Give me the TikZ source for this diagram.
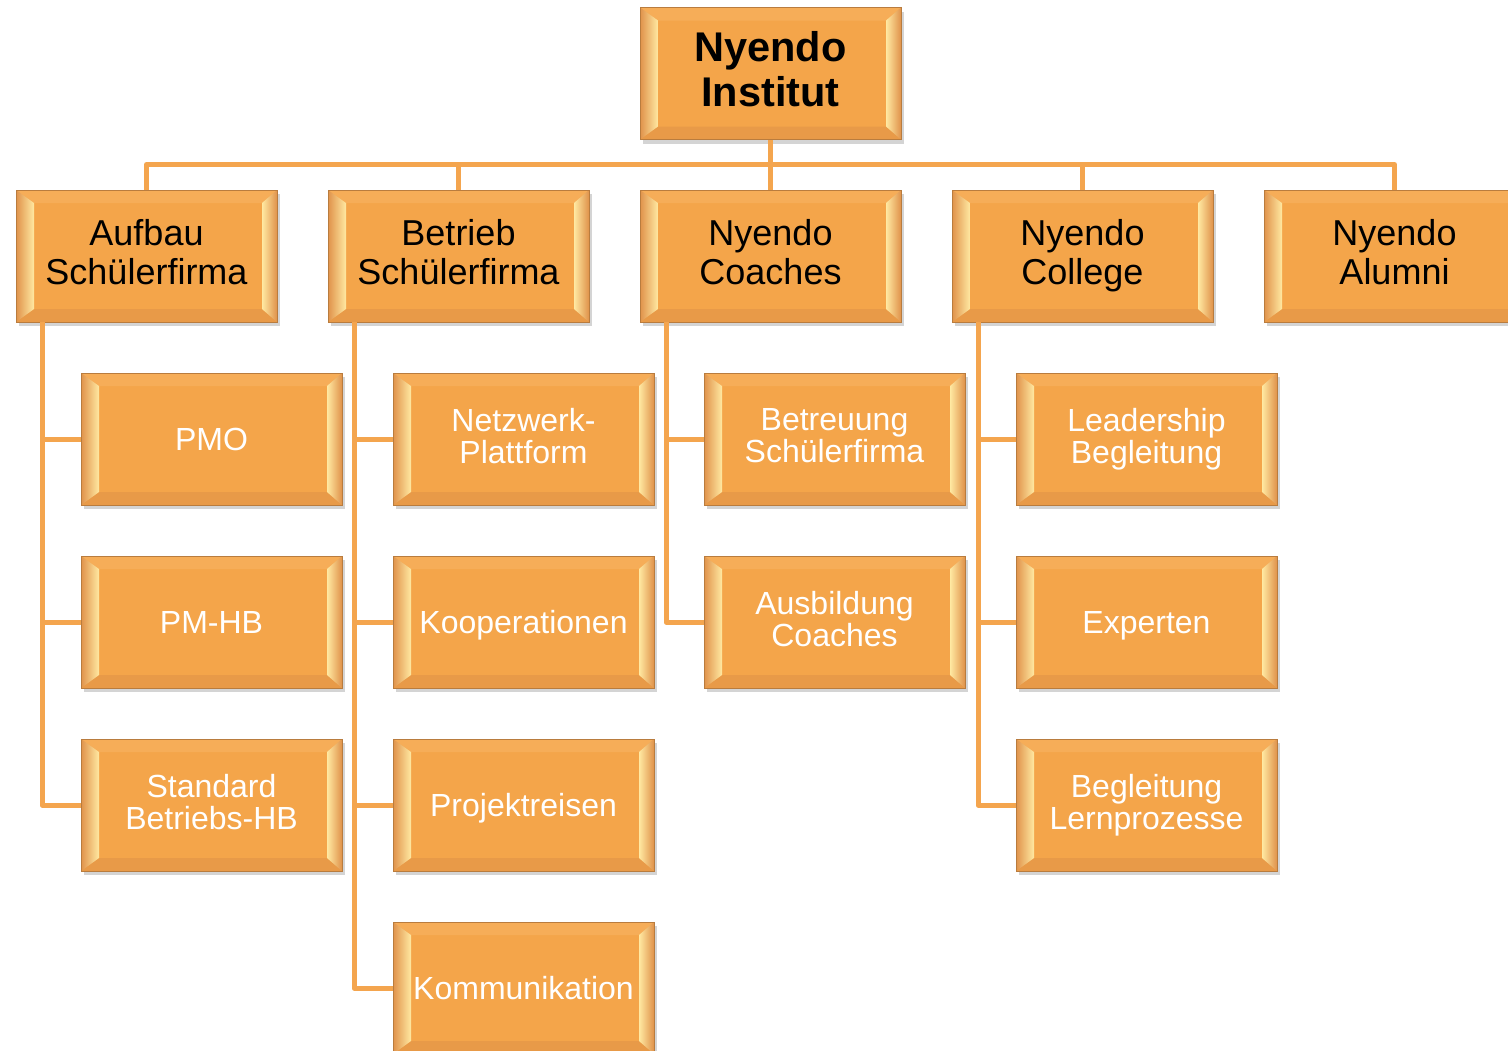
\documentclass[tikz,border=0pt]{standalone}
\usepackage{fontspec}
\setmainfont{Liberation Sans}
\usetikzlibrary{calc,shadows}
\definecolor{boxor}{HTML}{F4A54A}
\definecolor{boxedge}{HTML}{B97C3E}
\definecolor{bevdark}{HTML}{E0924A}
\definecolor{bevmid}{HTML}{F2AE5E}
\definecolor{bevyel}{HTML}{FFE9A2}
\definecolor{bevtop}{HTML}{F6AD58}
\definecolor{bevbot}{HTML}{E89A48}
\definecolor{lineor}{HTML}{F4A54E}
\tikzset{
  bevel/.style={rectangle, minimum width=261pt, minimum height=132pt, inner sep=0pt,
    fill=boxor, draw=boxedge, line width=0.8pt, align=center,
    execute at begin node={\rule{0pt}{0.93em}},
    execute at end node={\rule[-0.21em]{0pt}{0.21em}},
    drop shadow={shadow xshift=3pt, shadow yshift=-4pt, opacity=0.3, fill=black!55},
    path picture={
      \coordinate (oSW) at (path picture bounding box.south west);
      \coordinate (oNE) at (path picture bounding box.north east);
      \coordinate (oNW) at (oSW |- oNE);
      \coordinate (oSE) at (oNE |- oSW);
      \coordinate (iSW) at ($(oSW)+(18pt,13pt)$);
      \coordinate (iNE) at ($(oNE)+(-15pt,-13pt)$);
      \coordinate (iNW) at (iSW |- iNE);
      \coordinate (iSE) at (iNE |- iSW);
      \fill[bevtop] (oNW) -- (oNE) -- (iNE) -- (iNW) -- cycle;
      \fill[bevbot] (oSW) -- (oSE) -- (iSE) -- (iSW) -- cycle;
      \shade[left color=bevdark, middle color=bevmid, right color=bevyel]
        (oSW) -- (iSW) -- (iNW) -- (oNW) -- cycle;
      \shade[left color=bevyel, middle color=bevmid, right color=bevdark]
        (iSE) -- (oSE) -- (oNE) -- (iNE) -- cycle;
    }},
  lower/.style={execute at begin node={\rule{0pt}{\dimexpr 0.93em+#1\relax}}},
  lvlzero/.style={bevel, lower=7pt, font=\fontsize{41.5}{45.5}\selectfont\bfseries},
  lvlone/.style={bevel, lower=6pt, font=\fontsize{36}{39}\selectfont},
  lvltwo/.style={bevel, text=white, font=\fontsize{32}{32.3}\selectfont},
  twoline/.style={lower=4pt},
  conn/.style={draw=lineor, line width=5pt, line join=round}
}
\begin{document}
\begin{tikzpicture}[x=1pt,y=-1pt]
\clip (0,0) rectangle (1508,1050);
\fill[white] (0,0) rectangle (1508,1050);
% top
\node[lvlzero] (top) at (770.5,73.5) {Nyendo\\Institut};
% level one
\node[lvlone] (a1) at (146.5,256) {Aufbau\\Schülerfirma};
\node[lvlone] (a2) at (458.5,256) {Betrieb\\Schülerfirma};
\node[lvlone] (a3) at (770.5,256) {Nyendo\\Coaches};
\node[lvlone] (a4) at (1082.5,256) {Nyendo\\College};
\node[lvlone] (a5) at (1394.5,256) {Nyendo\\Alumni};
% level two
\node[lvltwo] (b11) at (211.5,439) {PMO};
\node[lvltwo] (b12) at (211.5,622) {PM-HB};
\node[lvltwo, twoline] (b13) at (211.5,805) {Standard\\Betriebs-HB};
\node[lvltwo, twoline] (b21) at (523.5,439) {Netzwerk-\\Plattform};
\node[lvltwo] (b22) at (523.5,622) {Kooperationen};
\node[lvltwo] (b23) at (523.5,805) {Projektreisen};
\node[lvltwo] (b24) at (523.5,988) {Kommunikation};
\node[lvltwo, twoline] (b31) at (834.5,439) {Betreuung\\Schülerfirma};
\node[lvltwo, twoline] (b32) at (834.5,622) {Ausbildung\\Coaches};
\node[lvltwo, twoline] (b41) at (1146.5,439) {Leadership\\Begleitung};
\node[lvltwo] (b42) at (1146.5,622) {Experten};
\node[lvltwo, twoline] (b43) at (1146.5,805) {Begleitung\\Lernprozesse};
% connectors top -> level one
\coordinate (bar) at (0,164.5);
\draw[conn] (top.south) -- (a3.north);
\draw[conn] (a1.north) -- (a1.north |- bar) -- (a5.north |- bar) -- (a5.north);
\draw[conn] (a2.north) -- (a2.north |- bar);
\draw[conn] (a4.north) -- (a4.north |- bar);
% connectors level one -> level two
\coordinate (t1) at ($(a1.south west)+(26.5pt,0pt)$);
\coordinate (t2) at ($(a2.south west)+(26.5pt,0pt)$);
\coordinate (t3) at ($(a3.south west)+(26.5pt,0pt)$);
\coordinate (t4) at ($(a4.south west)+(26.5pt,0pt)$);
\draw[conn] (t1) |- (b11.west);
\draw[conn] (t1) |- (b12.west);
\draw[conn] (t1) |- (b13.west);
\draw[conn] (t2) |- (b21.west);
\draw[conn] (t2) |- (b22.west);
\draw[conn] (t2) |- (b23.west);
\draw[conn] (t2) |- (b24.west);
\draw[conn] (t3) |- (b31.west);
\draw[conn] (t3) |- (b32.west);
\draw[conn] (t4) |- (b41.west);
\draw[conn] (t4) |- (b42.west);
\draw[conn] (t4) |- (b43.west);
\end{tikzpicture}
\end{document}
